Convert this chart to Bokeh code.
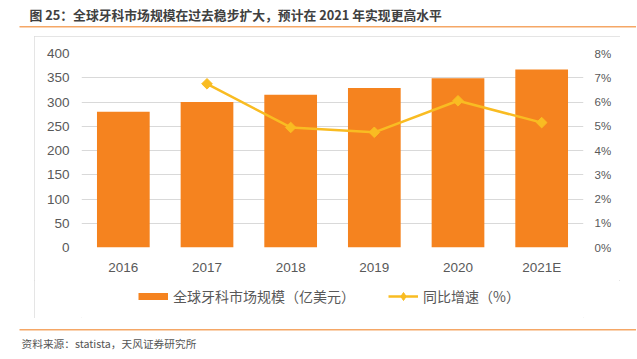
import numpy as np
from bokeh.plotting import figure
from bokeh.models import (ColumnDataSource, FactorRange, Range1d, LinearAxis, FixedTicker,
                          PrintfTickFormatter, Legend, LegendItem, Label, BoxAnnotation, Spacer)
from bokeh.layouts import column, row
from bokeh.embed import file_html
from bokeh.resources import INLINE

years = ["2016", "2017", "2018", "2019", "2020", "2021E"]
market = [280, 300, 315, 329, 349, 367]
growth_years = ["2017", "2018", "2019", "2020", "2021E"]
growth = [6.75, 4.95, 4.75, 6.05, 5.15]
left_ticks = [0, 50, 100, 150, 200, 250, 300, 350, 400]
right_ticks = [0, 1, 2, 3, 4, 5, 6, 7, 8]

title_text = "图 25：全球牙科市场规模在过去稳步扩大，预计在 2021 年实现更高水平"
source_text = "资料来源：statista，天风证券研究所"
bar_label = "全球牙科市场规模（亿美元）"
line_label = "同比增速（%）"

BAR = "#F5831F"
LINE = "#F9BC22"
GRID = "#D9D9D9"
RULE = "#F5A766"
TXT = "#595959"
CJK = "Noto Sans CJK SC"
NUM = "Liberation Sans"

W = 636


def blank(width, height):
    f = figure(width=width, height=height, x_range=Range1d(0, width), y_range=Range1d(height, 0),
               x_axis_type=None, y_axis_type=None, output_backend="svg",
               toolbar_location=None, min_border=0)
    f.outline_line_color = None
    f.grid.grid_line_color = None
    return f


# ---------- top strip: title + rule ----------
TH = 36
top = blank(W, TH)
top.add_layout(Label(x=29, y=13.5, text=title_text, text_font=CJK, text_font_size="12.8px",
                     text_font_style="bold", text_color="#404040", text_baseline="middle"))
top.add_layout(BoxAnnotation(left=19, right=W, top=25.5, bottom=27, fill_color=RULE,
                             fill_alpha=1, line_color=None))

# ---------- chart ----------
CW, CH = 586, 244
p = figure(width=CW, height=CH, x_range=FactorRange(*years), y_range=Range1d(0, 400),
           output_backend="svg", toolbar_location=None,
           min_border_left=47, min_border_right=37, min_border_top=17, min_border_bottom=33)
p.outline_line_color = None
p.extra_y_ranges = {"pct": Range1d(0, 8)}

p.yaxis.ticker = FixedTicker(ticks=left_ticks)
right = LinearAxis(y_range_name="pct", ticker=FixedTicker(ticks=right_ticks),
                   formatter=PrintfTickFormatter(format="%d%%"))
p.add_layout(right, "right")

for ax in p.yaxis + p.xaxis:
    ax.axis_line_color = None
    ax.major_tick_line_color = None
    ax.minor_tick_line_color = None
    ax.major_tick_out = 0
    ax.major_tick_in = 0
    ax.major_label_text_color = TXT
    ax.major_label_text_font = NUM
    ax.major_label_text_font_size = "13.5px"
p.yaxis[0].major_label_standoff = 12
right.major_label_standoff = 11
right.major_label_text_font_size = "11.5px"
p.xaxis.major_label_standoff = 12

p.xgrid.grid_line_color = None
p.ygrid.grid_line_color = GRID
p.ygrid.ticker = FixedTicker(ticks=left_ticks)

src = ColumnDataSource(dict(year=years, market=market))
p.vbar(x="year", top="market", width=0.63, source=src, fill_color=BAR, line_color=None)

gsrc = ColumnDataSource(dict(year=growth_years, growth=growth))
p.line(x="year", y="growth", source=gsrc, y_range_name="pct", line_color=LINE, line_width=2.5)
p.scatter(x="year", y="growth", source=gsrc, y_range_name="pct", marker="square",
          angle=np.pi / 4, size=7.5, fill_color=LINE, line_color=LINE)

# ---------- legend strip (inside the chart box) ----------
LH = 38
leg = blank(CW, LH)
nan = [float("nan")]
bar_proxy = leg.line(x=nan, y=nan, line_color=BAR, line_width=7, line_cap="butt")
line_proxy = leg.line(x=nan, y=nan, line_color=LINE, line_width=2.5)
pt_proxy = leg.scatter(x=nan, y=nan, marker="diamond", size=11,
                       fill_color=LINE, line_color=LINE)
legend = Legend(items=[LegendItem(label=bar_label, renderers=[bar_proxy]),
                       LegendItem(label=line_label, renderers=[line_proxy, pt_proxy])],
                orientation="horizontal", location=(57, 12),
                border_line_color=None, background_fill_alpha=0,
                label_text_font=CJK, label_text_font_size="14px", label_text_color=TXT,
                glyph_width=30, glyph_height=20, padding=0, margin=0, label_standoff=5,
                label_height=20, spacing=33)
leg.add_layout(legend)

box = column(p, leg, styles={"outline": "1px solid #DCDCDC", "outline-offset": "-1px"})

# ---------- bottom strip: rule + source ----------
BH = 40
bot = blank(W, BH)
bot.add_layout(BoxAnnotation(left=19, right=W, top=10.5, bottom=12, fill_color=RULE,
                             fill_alpha=1, line_color=None))
bot.add_layout(Label(x=21, y=25, text=source_text, text_font=CJK, text_font_size="10.7px",
                     text_color="#555555", text_baseline="middle"))

layout = column(top, row(Spacer(width=34, height=CH + LH), box), bot)
open("out.html", "w").write(file_html(layout, INLINE))
